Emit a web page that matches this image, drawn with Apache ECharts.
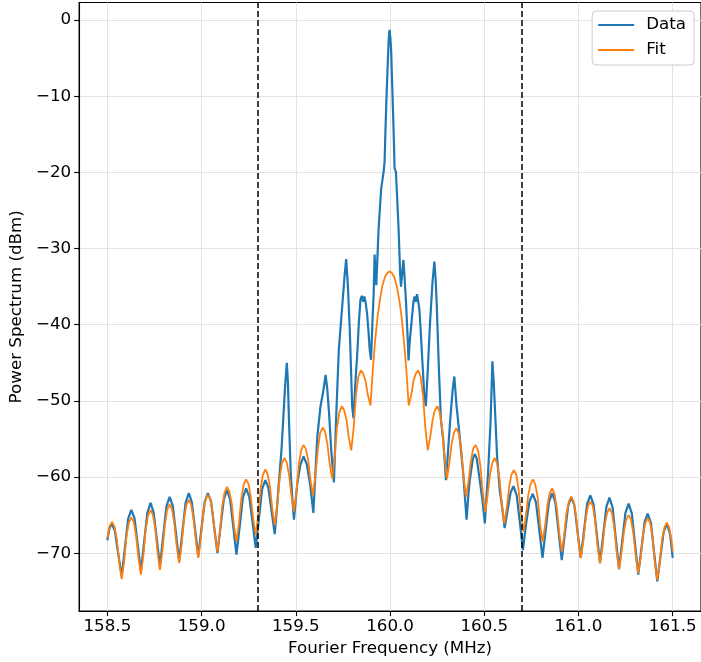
<!DOCTYPE html>
<html>
<head>
<meta charset="utf-8">
<script src="https://cdn.jsdelivr.net/npm/echarts@6/dist/echarts.min.js"></script>
<style>
  html, body { margin: 0; padding: 0; background: #fff; }
  #chart { width: 701px; height: 662px; }
</style>
</head>
<body>
<div id="chart"></div>
<script>
// Measured power spectrum around the 160 MHz carrier (MHz, dBm)
const dataFreq = [
  158.500, 158.510, 158.523, 158.540, 158.557, 158.576,
  158.593, 158.610, 158.627, 158.644, 158.661, 158.678,
  158.695, 158.712, 158.729, 158.745, 158.762, 158.779,
  158.796, 158.813, 158.830, 158.847, 158.864, 158.881,
  158.898, 158.915, 158.932, 158.948, 158.965, 158.982,
  158.999, 159.016, 159.033, 159.050, 159.067, 159.084,
  159.101, 159.118, 159.135, 159.151, 159.168, 159.185,
  159.202, 159.219, 159.236, 159.253, 159.270, 159.287,
  159.304, 159.321, 159.338, 159.354, 159.371, 159.388,
  159.400, 159.411, 159.424, 159.433, 159.442, 159.452, 159.458, 159.464, 159.473, 159.482, 159.490,
  159.507, 159.524, 159.541, 159.558, 159.576, 159.593,
  159.604, 159.614, 159.631, 159.645, 159.658, 159.667, 159.676, 159.688, 159.702,
  159.715, 159.728, 159.746, 159.758, 159.767, 159.776, 159.786, 159.799, 159.806,
  159.815, 159.825, 159.835, 159.843, 159.850, 159.857, 159.864, 159.871, 159.878, 159.886, 159.892, 159.899,
  159.906, 159.913, 159.918, 159.923, 159.927, 159.939, 159.953, 159.966, 159.971, 159.975, 159.980, 159.988, 159.993, 159.997,
  160.002, 160.006, 160.012, 160.019, 160.024, 160.031, 160.038, 160.045, 160.054, 160.058, 160.065, 160.071, 160.077, 160.084, 160.094, 160.098,
  160.105, 160.112, 160.124, 160.130, 160.137, 160.143, 160.150, 160.156, 160.162, 160.168, 160.182, 160.190,
  160.200, 160.212, 160.225, 160.235, 160.242, 160.248, 160.260, 160.270, 160.282, 160.297,
  160.308, 160.318, 160.332, 160.341, 160.353, 160.371, 160.388, 160.406,
  160.415, 160.423, 160.440, 160.450, 160.460, 160.476, 160.490, 160.503,
  160.512, 160.520, 160.533, 160.543, 160.550, 160.556, 160.568, 160.582, 160.595, 160.608,
  160.624, 160.640, 160.655, 160.672, 160.689, 160.705,
  160.722, 160.740, 160.757, 160.774, 160.792, 160.809,
  160.826, 160.843, 160.860, 160.877, 160.894, 160.911,
  160.928, 160.945, 160.961, 160.978, 160.995, 161.012,
  161.029, 161.046, 161.063, 161.080, 161.097, 161.114,
  161.131, 161.148, 161.164, 161.181, 161.198, 161.215,
  161.232, 161.249, 161.266, 161.283, 161.300, 161.317,
  161.334, 161.351, 161.367, 161.384, 161.401, 161.418,
  161.435, 161.452, 161.469, 161.486, 161.500
];
const dataPower = [
  -68.3, -66.8, -66.1, -67.1, -70.0, -73.0,
  -69.3, -65.5, -64.3, -65.4, -68.9, -72.4,
  -68.5, -64.7, -63.4, -64.6, -68.1, -71.7,
  -67.8, -63.9, -62.6, -63.8, -67.4, -71.1,
  -67.2, -63.4, -62.1, -63.3, -66.8, -70.4,
  -66.8, -63.3, -62.1, -63.2, -66.6, -70.0,
  -66.4, -62.9, -61.7, -62.9, -66.5, -70.2,
  -66.5, -62.7, -61.5, -62.6, -65.9, -69.3,
  -65.5, -61.6, -60.4, -61.4, -64.4, -67.5,
  -64.0, -60.4, -56.4, -52.5, -48.5, -45.0, -47.5, -52.9, -59.5, -63.0, -65.6,
  -61.0, -58.4, -57.3, -58.3, -61.0, -64.7,
  -59.5, -54.7, -50.7, -48.8, -46.6, -48.5, -51.5, -56.5, -60.7,
  -51.5, -43.3, -37.6, -33.8, -31.4, -34.8, -40.5, -50.7, -52.3,
  -48.0, -44.2, -39.5, -36.7, -36.2, -37.0, -36.3, -37.2, -38.5, -41.0, -43.3, -44.6,
  -40.0, -35.9, -30.8, -33.5, -34.8, -27.5, -22.1, -19.9, -18.6, -15.0, -11.0, -5.5, -2.5, -1.3,
  -2.4, -4.2, -9.0, -14.7, -19.5, -19.9, -23.5, -27.3, -33.5, -35.0, -33.0, -31.5, -33.8, -36.7, -42.0, -44.7,
  -42.0, -40.2, -37.0, -36.3, -37.0, -36.0, -37.0, -38.1, -40.5, -43.3, -49.4, -50.7,
  -46.0, -39.8, -34.5, -31.7, -34.0, -37.6, -46.4, -52.5, -55.1, -60.4,
  -56.5, -52.9, -48.6, -46.8, -50.7, -55.1, -59.5, -65.6,
  -62.5, -60.4, -57.5, -57.0, -57.6, -60.4, -63.0, -66.1,
  -62.5, -59.5, -52.9, -44.8, -47.5, -50.7, -57.3, -61.7, -64.0, -66.7,
  -64.3, -62.0, -61.2, -62.4, -66.0, -69.6,
  -66.1, -63.2, -62.2, -63.3, -67.0, -70.6,
  -66.9, -63.3, -62.1, -63.3, -67.1, -70.9,
  -67.3, -63.8, -62.6, -63.7, -67.2, -70.6,
  -67.1, -63.5, -62.4, -63.6, -67.5, -71.3,
  -67.6, -63.9, -62.7, -64.0, -68.1, -72.1,
  -68.4, -64.7, -63.5, -64.8, -68.8, -72.8,
  -69.4, -65.9, -64.8, -66.0, -69.9, -73.7,
  -70.4, -67.2, -66.1, -67.5, -70.6
];

// Fitted sinc-type spectrum (MHz, dBm)
const fitFreq = [
  158.500, 158.512, 158.525, 158.538, 158.550, 158.563,
  158.576, 158.589, 158.601, 158.614, 158.627, 158.640, 158.652, 158.665,
  158.678, 158.691, 158.703, 158.716, 158.729, 158.741, 158.754, 158.766,
  158.779, 158.792, 158.805, 158.817, 158.830, 158.843, 158.855, 158.868,
  158.881, 158.894, 158.906, 158.919, 158.932, 158.944, 158.957, 158.970,
  158.982, 158.995, 159.008, 159.020, 159.033, 159.046, 159.058, 159.071,
  159.084, 159.097, 159.109, 159.122, 159.135, 159.147, 159.160, 159.172,
  159.185, 159.198, 159.211, 159.223, 159.236, 159.249, 159.261, 159.274,
  159.287, 159.300, 159.312, 159.325, 159.338, 159.350, 159.363, 159.375,
  159.388, 159.401, 159.414, 159.426, 159.439, 159.452, 159.464, 159.477,
  159.490, 159.503, 159.515, 159.528, 159.541, 159.553, 159.566, 159.578,
  159.591, 159.604, 159.617, 159.629, 159.642, 159.655, 159.667, 159.680,
  159.693, 159.706, 159.718, 159.731, 159.744, 159.756, 159.769, 159.781,
  159.794, 159.807, 159.819, 159.832, 159.845, 159.858, 159.870, 159.883,
  159.896, 159.909, 159.921, 159.934, 159.947, 159.959, 159.972, 159.985,
  159.997, 160.010, 160.023, 160.035, 160.048, 160.061, 160.073, 160.086,
  160.099, 160.112, 160.124, 160.137, 160.149, 160.162, 160.175, 160.187,
  160.200, 160.213, 160.226, 160.238, 160.251, 160.264, 160.276, 160.289,
  160.302, 160.314, 160.327, 160.340, 160.352, 160.365, 160.378, 160.390,
  160.403, 160.416, 160.429, 160.441, 160.454, 160.467, 160.479, 160.492,
  160.505, 160.517, 160.530, 160.543, 160.555, 160.568, 160.581, 160.593,
  160.606, 160.619, 160.632, 160.644, 160.657, 160.670, 160.682, 160.695,
  160.708, 160.720, 160.733, 160.746, 160.758, 160.771, 160.784, 160.796,
  160.809, 160.822, 160.835, 160.847, 160.860, 160.873, 160.885, 160.898,
  160.911, 160.924, 160.936, 160.949, 160.961, 160.974, 160.987, 160.999,
  161.012, 161.025, 161.038, 161.050, 161.063, 161.076, 161.088, 161.101,
  161.114, 161.127, 161.139, 161.152, 161.164, 161.177, 161.190, 161.202,
  161.215, 161.228, 161.241, 161.253, 161.266, 161.279, 161.291, 161.304,
  161.317, 161.330, 161.342, 161.355, 161.367, 161.380, 161.393, 161.405,
  161.418, 161.431, 161.443, 161.456, 161.469, 161.481, 161.494, 161.500
];
const fitPower = [
  -68.0, -66.4, -65.9, -66.5, -68.2, -71.2,
  -73.4, -71.1, -67.8, -66.0, -65.3, -65.9, -67.6, -70.6,
  -72.8, -70.3, -66.9, -65.0, -64.3, -64.9, -66.7, -69.9,
  -72.2, -69.7, -66.3, -64.3, -63.6, -64.2, -66.0, -69.1,
  -71.3, -68.9, -65.6, -63.7, -63.0, -63.6, -65.4, -68.4,
  -70.6, -68.2, -64.9, -63.0, -62.3, -62.9, -64.6, -67.6,
  -69.8, -67.3, -63.9, -62.0, -61.3, -61.9, -63.5, -66.4,
  -68.5, -66.1, -62.8, -61.0, -60.3, -60.9, -62.6, -65.5,
  -67.6, -65.1, -61.7, -59.7, -59.0, -59.6, -61.3, -64.2,
  -66.3, -63.7, -60.2, -58.2, -57.5, -58.1, -59.7, -62.5,
  -64.5, -62.0, -58.5, -56.5, -55.8, -56.3, -57.8, -60.5,
  -62.4, -59.8, -56.3, -54.2, -53.5, -54.0, -55.6, -58.3,
  -60.2, -57.4, -53.6, -51.5, -50.7, -51.2, -52.5, -54.8,
  -56.5, -53.5, -49.3, -46.8, -46.0, -46.4, -47.4, -49.3,
  -50.6, -45.8, -42.0, -38.9, -36.6, -34.9, -33.8, -33.2,
  -33.0, -33.2, -33.8, -34.9, -36.6, -38.9, -42.0, -45.8,
  -50.6, -49.3, -47.4, -46.4, -46.0, -46.8, -49.3, -53.5,
  -56.5, -54.8, -52.5, -51.2, -50.7, -51.5, -53.6, -57.4,
  -60.2, -58.3, -55.6, -54.1, -53.6, -54.3, -56.4, -60.0,
  -62.6, -60.6, -57.9, -56.3, -55.8, -56.5, -58.5, -62.0,
  -64.6, -62.5, -59.7, -58.1, -57.5, -58.2, -60.2, -63.6,
  -66.1, -64.1, -61.3, -59.7, -59.1, -59.7, -61.6, -64.9,
  -67.2, -65.2, -62.4, -60.9, -60.3, -61.0, -62.8, -66.1,
  -68.5, -66.5, -63.7, -62.1, -61.5, -62.2, -64.1, -67.4,
  -69.8, -67.7, -64.8, -63.2, -62.6, -63.2, -65.1, -68.3,
  -70.6, -68.5, -65.5, -63.8, -63.2, -63.8, -65.7, -69.0,
  -71.3, -69.2, -66.3, -64.7, -64.1, -64.7, -66.6, -69.8,
  -72.1, -70.0, -67.2, -65.6, -65.0, -65.6, -67.4, -70.4,
  -72.6, -70.5, -67.6, -66.0, -65.4, -66.0, -67.9, -71.2,
  -73.5, -71.3, -68.3, -66.6, -66.0, -66.6, -68.4, -69.8
];

// Analysis window edges (MHz)
const windowEdges = [159.3, 160.7];

// Axis ticks
const xTicks = [158.5, 159.0, 159.5, 160.0, 160.5, 161.0, 161.5];
const yTicks = [-70, -60, -50, -40, -30, -20, -10, 0];

const zip = (xs, ys) => xs.map((x, i) => [x, ys[i]]);

const FONT = 'DejaVu Sans';
const FS = 16.7;
const chart = echarts.init(document.getElementById('chart'), null, { renderer: 'canvas' });

chart.setOption({
  animation: false,
  backgroundColor: '#ffffff',
  textStyle: { fontFamily: FONT },
  grid: {
    left: 77.3, right: -1.7, top: 2.5, bottom: 50.3,
    show: true, borderColor: '#000', borderWidth: 1.1, backgroundColor: 'transparent'
  },
  legend: {
    orient: 'vertical',
    right: 7, top: 11,
    padding: [5, 8, 6, 6],
    itemGap: 7,
    itemWidth: 36, itemHeight: 2,
    icon: 'rect',
    backgroundColor: 'rgba(255,255,255,0.85)',
    borderColor: '#cccccc', borderWidth: 1, borderRadius: 4,
    textStyle: { fontFamily: FONT, fontSize: FS, color: '#000', lineHeight: 18, padding: [0, 0, 0, 7] },
    data: ['Data', 'Fit']
  },
  xAxis: {
    type: 'value',
    min: 158.35, max: 161.65,
    minInterval: 0.5, maxInterval: 0.5,
    name: 'Fourier Frequency (MHz)',
    nameLocation: 'middle', nameGap: 25,
    nameTextStyle: { fontFamily: FONT, fontSize: FS, color: '#000' },
    axisLine: { show: true, onZero: false, lineStyle: { color: '#000', width: 1.1 } },
    axisTick: { show: true, length: 5, lineStyle: { color: '#000', width: 1.1 }, customValues: xTicks },
    axisLabel: {
      fontFamily: FONT, fontSize: FS, color: '#000', margin: 7,
      customValues: xTicks,
      formatter: v => v.toFixed(1)
    },
    splitLine: { show: true, lineStyle: { color: '#e3e3e3', width: 1 } }
  },
  yAxis: {
    type: 'value',
    min: -77.6, max: 2.3,
    minInterval: 10, maxInterval: 10,
    name: 'Power Spectrum (dBm)',
    nameLocation: 'middle', nameGap: 47,
    nameTextStyle: { fontFamily: FONT, fontSize: FS, color: '#000' },
    axisLine: { show: true, onZero: false, lineStyle: { color: '#000', width: 1.1 } },
    axisTick: { show: true, length: 5, lineStyle: { color: '#000', width: 1.1 }, customValues: yTicks },
    axisLabel: {
      fontFamily: FONT, fontSize: FS, color: '#000', margin: 8,
      customValues: yTicks,
      formatter: v => String(v).replace('-', '\u2212')
    },
    splitLine: { show: true, lineStyle: { color: '#e3e3e3', width: 1 } }
  },
  series: [
    {
      name: 'Data', type: 'line', data: zip(dataFreq, dataPower),
      showSymbol: false, symbol: 'none', z: 2,
      lineStyle: { color: '#1f77b4', width: 2.2 },
      itemStyle: { color: '#1f77b4' }
    },
    {
      name: 'Fit', type: 'line', data: zip(fitFreq, fitPower),
      showSymbol: false, symbol: 'none', z: 3,
      lineStyle: { color: '#ff7f0e', width: 1.8 },
      itemStyle: { color: '#ff7f0e' }
    },
    {
      name: 'window', type: 'line', data: [], z: 4,
      markLine: {
        silent: true, symbol: ['none', 'none'], animation: false,
        label: { show: false },
        lineStyle: { color: '#000', type: [6, 3], width: 1.5 },
        data: windowEdges.map(x => ({ xAxis: x }))
      }
    }
  ]
});
</script>
</body>
</html>
